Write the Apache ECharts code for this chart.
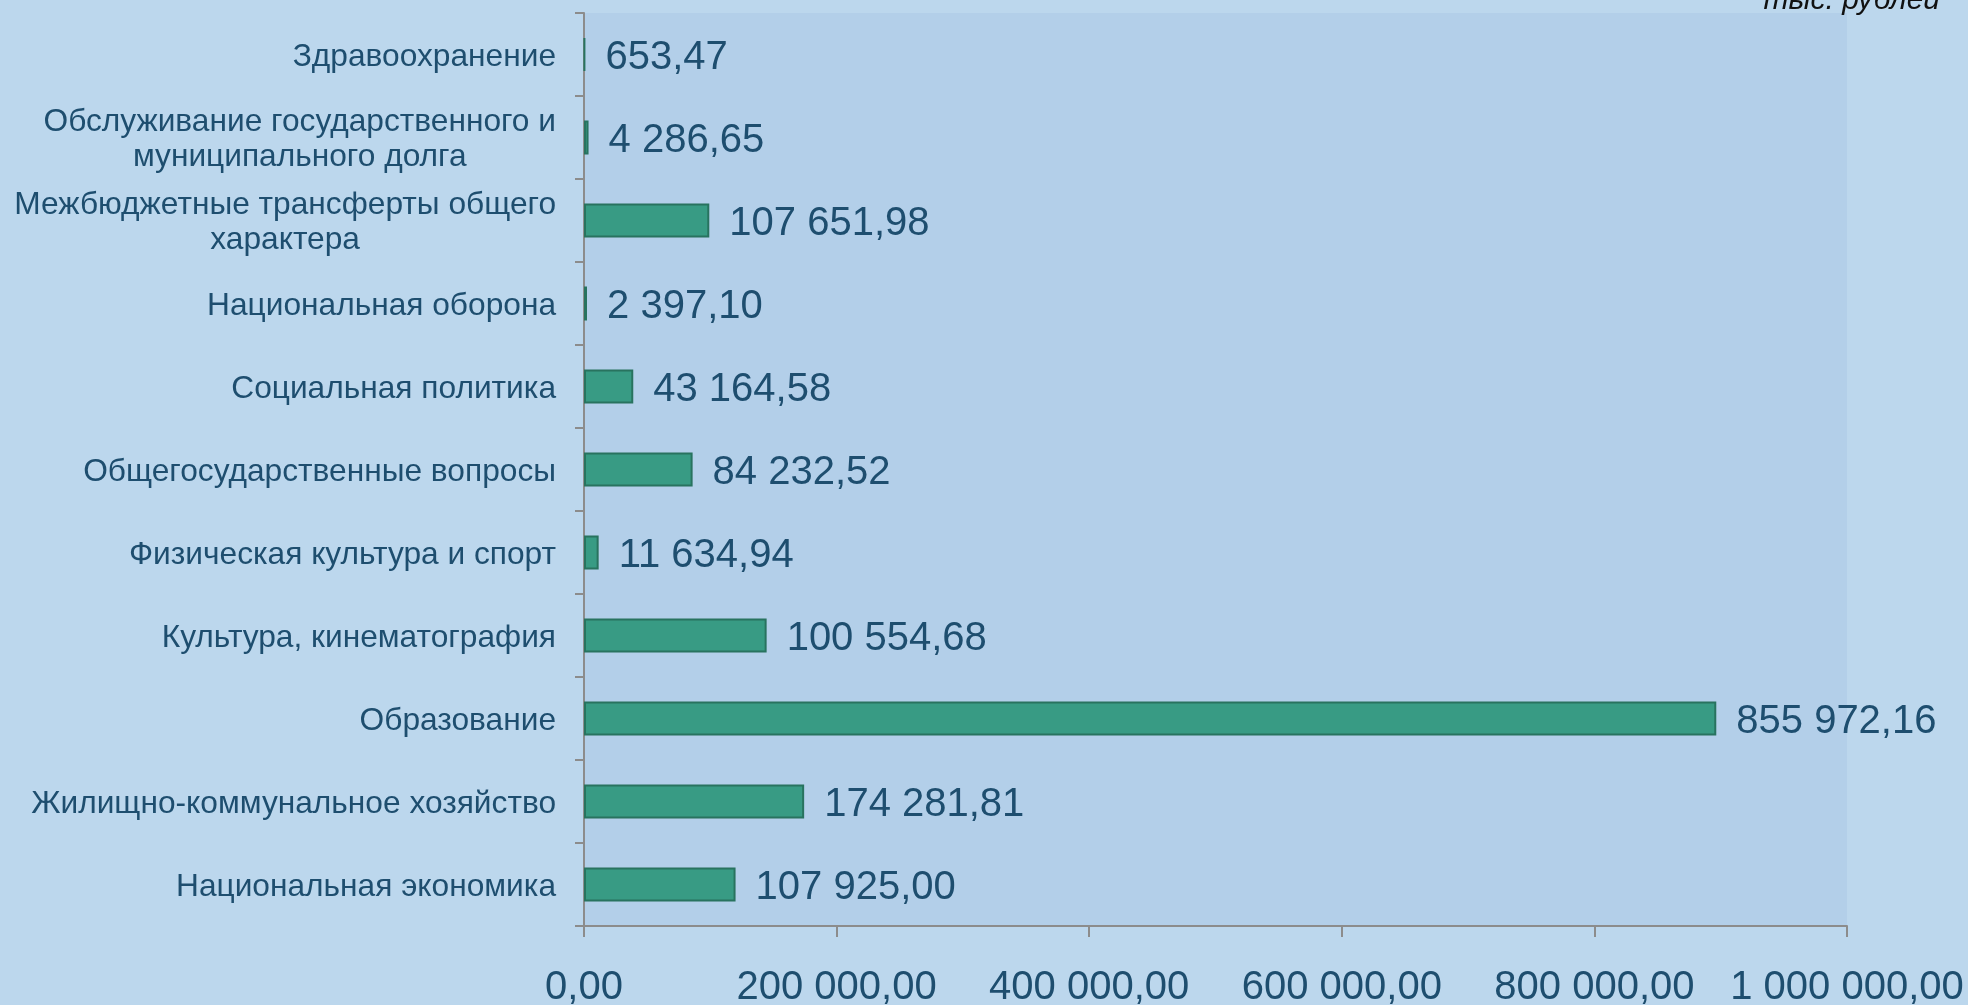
<!DOCTYPE html>
<html>
<head>
<meta charset="utf-8">
<script src="https://cdn.jsdelivr.net/npm/echarts@6/dist/echarts.min.js"></script>
<style>
  html, body { margin: 0; padding: 0; background: #bcd7ed; }
  #main { width: 1968px; height: 1005px; }
</style>
</head>
<body>
<div id="main"></div>
<script>
// categories, bottom to top (category axis starts at the bottom)
var categories = [
    'Национальная экономика',
    'Жилищно-коммунальное хозяйство',
    'Образование',
    'Культура, кинематография',
    'Физическая культура и спорт',
    'Общегосударственные вопросы',
    'Социальная политика',
    'Национальная оборона',
    'Межбюджетные трансферты общего\nхарактера',
    'Обслуживание государственного и\nмуниципального долга',
    'Здравоохранение'
];
// bar lengths as drawn on the slide (thousand roubles)
var barValues = [120000, 174300, 896500, 144600, 11600, 86000, 39000, 2400, 99200, 3600, 650];
// values printed next to the bars
var printedValues = [107925.00, 174281.81, 855972.16, 100554.68, 11634.94, 84232.52, 43164.58, 2397.10, 107651.98, 4286.65, 653.47];
var xTicks = [0, 200000, 400000, 600000, 800000, 1000000];

function fmtRu(v) {
    var parts = v.toFixed(2).split('.');
    return parts[0].replace(/\B(?=(\d{3})+(?!\d))/g, ' ') + ',' + parts[1];
}

var textColor = '#1e4e6f';
var chart = echarts.init(document.getElementById('main'));
var option = {
    backgroundColor: '#bcd7ed',
    animation: false,
    textStyle: { fontFamily: 'Liberation Sans, Arial, sans-serif' },
    grid: {
        left: 584, right: 121, top: 13, bottom: 79,
        show: true, backgroundColor: '#b3cfe9', borderWidth: 0,
        outerBoundsMode: 'none'
    },
    xAxis: {
        type: 'value',
        min: xTicks[0],
        max: xTicks[xTicks.length - 1],
        interval: 200000,
        splitLine: { show: false },
        axisLine: { show: true, lineStyle: { color: '#8c8c8c', width: 2 } },
        axisTick: { show: true, length: 11, lineStyle: { color: '#8c8c8c', width: 2 } },
        axisLabel: {
            color: textColor, fontSize: 40, margin: 42,
            formatter: function (v) { return fmtRu(v); }
        }
    },
    yAxis: {
        type: 'category',
        data: categories,
        axisLine: { show: true, lineStyle: { color: '#8c8c8c', width: 2 } },
        axisTick: { show: true, length: 9, lineStyle: { color: '#8c8c8c', width: 2 } },
        axisLabel: {
            color: textColor, fontSize: 31.7, margin: 28, lineHeight: 35,
            formatter: function (v) {
                return v.split('\n').map(function (s) { return '{c|' + s + '}'; }).join('\n');
            },
            rich: { c: { align: 'center', color: textColor, fontSize: 31.7, lineHeight: 35, padding: [5, 0, 0, 0] } }
        }
    },
    series: [{
        type: 'bar',
        data: barValues,
        barWidth: 34,
        itemStyle: { color: '#389b84', borderColor: '#28735f', borderWidth: 2 },
        label: {
            show: true,
            position: 'right',
            distance: 20,
            offset: [0, 3],
            color: textColor,
            fontSize: 40,
            formatter: function (p) { return fmtRu(printedValues[p.dataIndex]); }
        }
    }],
    graphic: [{
        type: 'text',
        right: 28,
        top: -14,
        style: {
            text: 'тыс. рублей',
            font: 'italic 30px "Liberation Sans", Arial, sans-serif',
            fill: '#111'
        }
    }]
};
chart.setOption(option);
</script>
</body>
</html>
